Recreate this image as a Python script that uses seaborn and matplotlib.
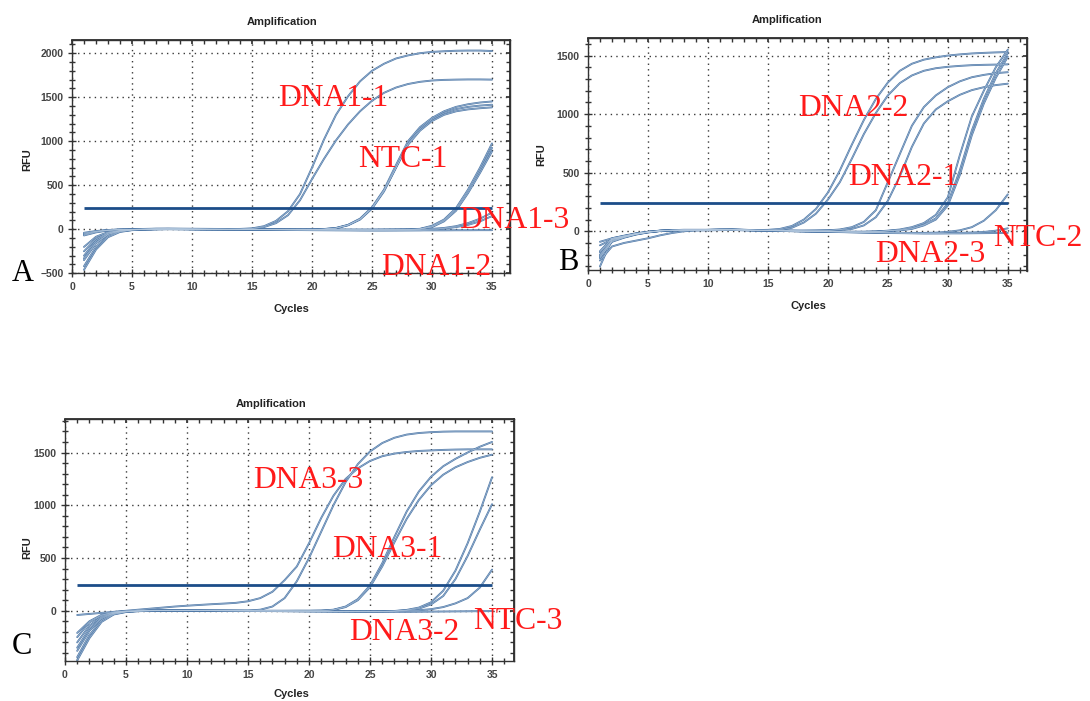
import numpy as np
import pandas as pd
import matplotlib
matplotlib.use("Agg")
import matplotlib.pyplot as plt
import seaborn as sns
from matplotlib.ticker import MultipleLocator

# ---------------- data ----------------
cycles = list(range(1, 36))

# Panel A
a_dna_hi = [-60, -28, -10, -3, 0, 4, 7, 8, 7, 6, 5, 4, 3, 4, 10, 35, 95, 205, 400, 700, 1020, 1300, 1510, 1680, 1800, 1880, 1940, 1975, 2000, 2015, 2022, 2028, 2030, 2030, 2025]
a_dna_lo = [-200, -85, -32, -10, -3, 2, 5, 5, 4, 3, 2, 2, 1, 2, 6, 25, 70, 160, 330, 570, 800, 1010, 1190, 1340, 1460, 1550, 1610, 1650, 1675, 1690, 1697, 1700, 1702, 1702, 1700]
a_mid_1 = [-300, -130, -45, -15, -5, 0, 3, 4, 3, 2, 1, 0, 0, 0, 0, 0, -2, -3, -3, -2, 3, 15, 50, 120, 250, 450, 730, 1000, 1160, 1265, 1340, 1390, 1420, 1440, 1452]
a_mid_2 = [-350, -160, -60, -20, -6, -1, 2, 3, 3, 2, 1, 0, 0, 0, -1, -2, -3, -4, -4, -3, 2, 12, 45, 110, 235, 430, 700, 970, 1140, 1250, 1320, 1365, 1390, 1405, 1415]
a_mid_3 = [-420, -200, -75, -25, -8, -2, 1, 2, 2, 1, 0, 0, -1, -1, -2, -3, -4, -5, -5, -4, 1, 13, 48, 115, 240, 440, 700, 960, 1120, 1230, 1300, 1340, 1362, 1375, 1385]
a_late_1 = [-460, -230, -90, -30, -10, -3, 0, 2, 2, 1, 0, 0, -1, -1, -2, -2, -3, -3, -4, -4, -5, -5, -5, -5, -5, -4, -3, -1, 5, 40, 110, 240, 450, 700, 975]
a_late_2 = [-50, -25, -10, -4, -1, 1, 3, 4, 3, 2, 1, 0, 0, -1, -1, -2, -2, -3, -3, -4, -4, -4, -5, -5, -5, -4, -3, -2, 3, 30, 100, 225, 430, 670, 925]
a_late_3 = [-330, -150, -55, -18, -6, -1, 2, 3, 3, 2, 1, 0, 0, -1, -1, -2, -3, -3, -4, -4, -5, -5, -6, -6, -6, -5, -4, -2, 2, 25, 90, 210, 410, 640, 885]
a_tail_1 = [-40, -20, -8, -3, 0, 2, 3, 3, 2, 1, 0, 0, -1, -2, -3, -4, -5, -6, -7, -8, -8, -9, -9, -10, -10, -10, -9, -8, -5, 5, 15, 35, 70, 120, 190]
a_tail_2 = [-250, -110, -40, -14, -5, -1, 1, 2, 1, 1, 0, -1, -2, -3, -4, -5, -6, -7, -8, -9, -10, -10, -11, -11, -12, -12, -12, -11, -10, -6, 8, 25, 50, 90, 150]
a_flat = [-70, -35, -14, -5, -2, 0, 2, 2, 1, 0, -1, -2, -3, -4, -5, -6, -7, -8, -9, -10, -10, -11, -11, -12, -12, -12, -12, -12, -12, -12, -12, -11, -11, -10, -10]
a_threshold = 240

# Panel B
b_early_1 = [-170, -60, -40, -20, -5, 5, 10, 12, 12, 12, 14, 15, 12, 10, 12, 20, 45, 100, 190, 330, 520, 740, 950, 1130, 1270, 1370, 1430, 1465, 1485, 1500, 1510, 1518, 1523, 1527, 1530]
b_early_2 = [-210, -80, -50, -25, -8, 3, 8, 10, 10, 10, 12, 12, 10, 8, 8, 12, 30, 75, 150, 270, 420, 620, 830, 1010, 1160, 1265, 1330, 1370, 1392, 1404, 1412, 1418, 1421, 1423, 1425]
b_mid_1 = [-250, -130, -100, -80, -60, -35, -15, 0, 8, 12, 15, 15, 12, 10, 8, 6, 5, 5, 6, 8, 15, 35, 80, 180, 420, 660, 900, 1060, 1160, 1230, 1280, 1315, 1335, 1350, 1358]
b_mid_2 = [-120, -70, -45, -22, -6, 4, 9, 11, 11, 11, 13, 13, 11, 9, 7, 6, 5, 5, 6, 8, 12, 20, 50, 120, 260, 470, 720, 920, 1040, 1110, 1165, 1205, 1230, 1248, 1260]
b_late_1 = [-300, -70, -45, -22, -7, 3, 8, 10, 10, 10, 11, 12, 10, 8, 6, 4, 2, 0, -2, -3, -4, -5, -5, -2, 5, 15, 35, 70, 140, 290, 650, 980, 1200, 1400, 1550]
b_late_2 = [-220, -90, -55, -28, -10, 2, 7, 9, 9, 9, 10, 11, 9, 7, 5, 3, 1, -1, -3, -4, -5, -6, -6, -4, 2, 10, 25, 55, 110, 240, 520, 860, 1130, 1350, 1520]
b_late_3 = [-180, -65, -42, -20, -6, 4, 9, 11, 11, 11, 12, 13, 11, 9, 7, 5, 3, 1, -1, -2, -3, -4, -4, -2, 3, 8, 20, 50, 100, 220, 480, 820, 1090, 1310, 1490]
b_tail_1 = [-90, -60, -38, -18, -4, 5, 10, 12, 12, 12, 13, 14, 12, 10, 8, 6, 4, 2, 0, -2, -4, -6, -8, -10, -12, -13, -14, -14, -12, -5, 8, 35, 90, 180, 315]
b_tail_2 = [-200, -75, -48, -24, -8, 3, 8, 10, 10, 10, 11, 12, 10, 8, 6, 4, 2, 0, -2, -4, -6, -8, -10, -12, -14, -15, -16, -17, -17, -16, -14, -11, -6, 5, 25]
b_flat = [-230, -85, -52, -26, -9, 2, 7, 9, 9, 9, 10, 11, 9, 7, 5, 3, 1, -1, -3, -5, -7, -9, -11, -13, -15, -16, -17, -18, -18, -18, -18, -17, -16, -15, -14]
b_threshold = 245

# Panel C
c_early_1 = [-40, -30, -20, -10, 0, 10, 20, 30, 40, 48, 55, 62, 68, 75, 90, 120, 180, 290, 420, 640, 880, 1090, 1250, 1350, 1420, 1465, 1490, 1505, 1515, 1520, 1525, 1528, 1530, 1530, 1530]
c_early_2 = [-250, -110, -45, -15, -5, -1, 1, 2, 2, 2, 2, 2, 2, 2, 2, 10, 40, 120, 280, 500, 750, 1000, 1220, 1390, 1510, 1590, 1640, 1670, 1685, 1693, 1698, 1700, 1700, 1700, 1700]
c_mid_1 = [-300, -140, -55, -20, -6, -1, 1, 2, 2, 2, 2, 1, 1, 0, 0, 0, 0, 0, 0, 0, 2, 10, 40, 110, 240, 450, 700, 940, 1130, 1270, 1370, 1440, 1500, 1555, 1600]
c_mid_2 = [-380, -190, -75, -25, -8, -2, 0, 1, 1, 1, 1, 0, 0, 0, -1, -1, -1, -1, 0, 0, 1, 8, 35, 100, 225, 420, 650, 870, 1050, 1190, 1290, 1360, 1410, 1450, 1480]
c_late_1 = [-440, -230, -90, -30, -10, -3, 0, 1, 1, 1, 0, 0, -1, -1, -2, -2, -3, -3, -4, -4, -5, -5, -6, -6, -6, -5, -2, 8, 30, 80, 190, 380, 640, 940, 1265]
c_late_2 = [-470, -260, -105, -35, -12, -4, -1, 1, 1, 1, 0, 0, -1, -1, -2, -3, -3, -4, -4, -5, -5, -6, -6, -7, -7, -6, -4, 5, 20, 60, 140, 300, 520, 770, 1010]
c_tail = [-210, -100, -38, -13, -4, 0, 2, 2, 2, 1, 1, 0, 0, -1, -1, -2, -2, -3, -3, -4, -4, -5, -5, -5, -5, -5, -3, 0, 5, 15, 35, 70, 120, 220, 390]
c_flat = [-350, -170, -65, -22, -7, -1, 1, 2, 2, 1, 1, 0, 0, -1, -1, -2, -2, -3, -4, -5, -6, -7, -8, -9, -10, -10, -10, -10, -9, -8, -7, -6, -5, -4, -3]
c_threshold = 244

a_labels = ["DNA1-1", "NTC-1", "DNA1-3", "DNA1-2"]
b_labels = ["DNA2-2", "DNA2-1", "DNA2-3", "NTC-2"]
c_labels = ["DNA3-3", "DNA3-1", "DNA3-2", "NTC-3"]
panel_letters = ["A", "B", "C"]
title_text = "Amplification"
x_title = "Cycles"
y_title = "RFU"

# ---------------- figure ----------------
W, H = 1090, 701
sns.set_theme(style="white")
plt.rcParams["font.family"] = ["Liberation Sans", "DejaVu Sans"]

fig = plt.figure(figsize=(W / 100, H / 100), dpi=100)
fig.patch.set_facecolor("white")


def rect(l, t, r, b):
    return [l / W, 1 - b / H, (r - l) / W, (b - t) / H]


def ftext(x, y, s, **kw):
    fig.text(x / W, 1 - y / H, s, **kw)


def to_long(curves):
    rows = []
    for i, vals in enumerate(curves):
        for c, v in zip(cycles, vals):
            rows.append((i, c, v))
    return pd.DataFrame(rows, columns=["curve", "cycle", "rfu"])


panels = [
    dict(curves=[a_dna_hi, a_dna_lo, a_mid_1, a_mid_2, a_mid_3, a_late_1, a_late_2, a_late_3, a_tail_1, a_tail_2, a_flat],
         thr=a_threshold, box=(72, 40, 510, 273.3), ylim=(-500, 2150), xlim=(0, 36.5),
         labels=a_labels,
         label_pos=[(278, 106), (358, 167), (459, 228), (381, 275)],
         letter_pos=(12, 281), title_pos=(282, 22), ylab_pos=(27, 160), xlab_pos=(291, 309)),
    dict(curves=[b_early_1, b_early_2, b_mid_1, b_mid_2, b_late_1, b_late_2, b_late_3, b_tail_1, b_tail_2, b_flat],
         thr=b_threshold, box=(588, 38, 1027, 270.5), ylim=(-335, 1650), xlim=(0, 36.6),
         labels=b_labels,
         label_pos=[(798, 116), (848, 185), (875, 262), (993, 246)],
         letter_pos=(558, 270), title_pos=(787, 20), ylab_pos=(541, 155), xlab_pos=(808, 306)),
    dict(curves=[c_early_1, c_early_2, c_mid_1, c_mid_2, c_late_1, c_late_2, c_tail, c_flat],
         thr=c_threshold, box=(65, 419.3, 514, 661.4), ylim=(-480, 1815), xlim=(0, 36.8),
         labels=c_labels,
         label_pos=[(253, 488), (332, 557), (349, 640), (473, 629)],
         letter_pos=(12, 654), title_pos=(271, 404), ylab_pos=(27, 548), xlab_pos=(291, 694)),
]

curve_outer = "#5079a8"
curve_inner = "#b3c8de"
thr_color = "#1c4d89"
tick_color = "#333333"

for p, letter in zip(panels, panel_letters):
    ax = fig.add_axes(rect(*p["box"]))
    ax.set_facecolor("white")
    df = to_long(p["curves"])
    sns.lineplot(data=df, x="cycle", y="rfu", units="curve", estimator=None,
                 color=curve_outer, lw=1.35, ax=ax, legend=False)
    sns.lineplot(data=df, x="cycle", y="rfu", units="curve", estimator=None,
                 color=curve_inner, lw=0.35, ax=ax, legend=False)
    ax.hlines(p["thr"], cycles[0], cycles[-1], color=thr_color, lw=2.0, zorder=5)

    ax.set_xlim(*p["xlim"])
    ax.set_ylim(*p["ylim"])
    ax.xaxis.set_major_locator(MultipleLocator(5))
    ax.xaxis.set_minor_locator(MultipleLocator(1))
    ax.yaxis.set_major_locator(MultipleLocator(500))
    ax.yaxis.set_minor_locator(MultipleLocator(100))
    ax.grid(True, which="major", linestyle=(0, (1, 3)), color="#3a3a3a", lw=1.0)
    ax.set_axisbelow(True)
    ax.set_xlabel("")
    ax.set_ylabel("")
    for s in ax.spines.values():
        s.set_color(tick_color)
        s.set_linewidth(1.0)
        s.set_visible(True)
    ax.tick_params(which="major", direction="inout", length=6, width=1, color=tick_color,
                   labelsize=7.5, labelcolor="#444444", pad=3,
                   left=True, bottom=True)
    ax.tick_params(which="minor", direction="inout", length=4, width=1, color=tick_color,
                   left=True, bottom=True)
    for lab in ax.get_xticklabels() + ax.get_yticklabels():
        lab.set_fontweight("bold")
    secx = ax.secondary_xaxis("top")
    secx.xaxis.set_major_locator(MultipleLocator(5))
    secx.xaxis.set_minor_locator(MultipleLocator(1))
    secx.tick_params(which="both", direction="in", length=3, color=tick_color, labeltop=False)
    secy = ax.secondary_yaxis("right")
    secy.yaxis.set_major_locator(MultipleLocator(500))
    secy.yaxis.set_minor_locator(MultipleLocator(100))
    secy.tick_params(which="both", direction="in", length=3, color=tick_color, labelright=False)

    ftext(*p["title_pos"], title_text, ha="center", va="center", fontsize=8, fontweight="bold", color="#222222")
    ftext(*p["ylab_pos"], y_title, ha="center", va="center", rotation=90, fontsize=8, fontweight="bold", color="#222222")
    ftext(*p["xlab_pos"], x_title, ha="center", va="center", fontsize=8, fontweight="bold", color="#222222")

    for txt, (x, y) in zip(p["labels"], p["label_pos"]):
        ftext(x, y, txt, ha="left", va="baseline", fontsize=22.8, color="#ff1a1a",
              family=["Liberation Serif", "DejaVu Serif"], zorder=10)
    ftext(*p["letter_pos"], letter, ha="left", va="baseline", fontsize=22, color="black",
          family=["Liberation Serif", "DejaVu Serif"])

fig.savefig("out.png", dpi=100)
